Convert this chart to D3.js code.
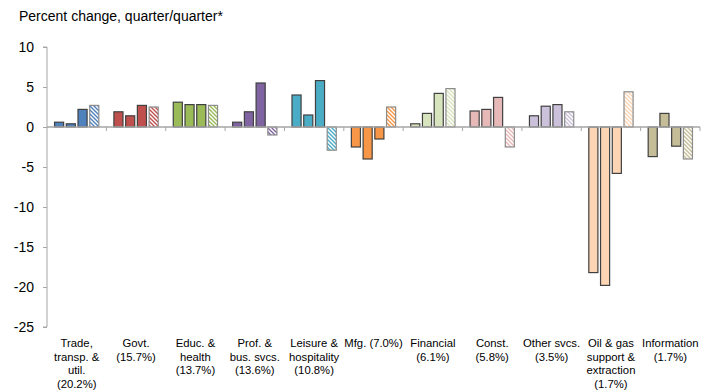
<!DOCTYPE html>
<html>
<head>
<meta charset="utf-8">
<script src="https://cdn.jsdelivr.net/npm/d3@7"></script>
<style>
  html, body { margin: 0; padding: 0; background: #fff; }
  svg { display: block; font-family: "Liberation Sans", Arial, sans-serif; }
</style>
</head>
<body>
<svg id="chart" width="712" height="392"></svg>
<script>
const title = "Percent change, quarter/quarter*";
const categories = [
  ["Trade,", "transp. &", "util.", "(20.2%)"],
  ["Govt.", "(15.7%)"],
  ["Educ. &", "health", "(13.7%)"],
  ["Prof. &", "bus. svcs.", "(13.6%)"],
  ["Leisure &", "hospitality", "(10.8%)"],
  ["Mfg. (7.0%)"],
  ["Financial", "(6.1%)"],
  ["Const.", "(5.8%)"],
  ["Other svcs.", "(3.5%)"],
  ["Oil & gas", "support &", "extraction", "(1.7%)"],
  ["Information", "(1.7%)"]
];
const seriesNames = ["Quarter 1", "Quarter 2", "Quarter 3", "Quarter 4"];
const series1 = [0.6, 1.9, 3.1, 0.6, 4.0, -2.5, 0.4, 2.0, 1.4, -18.2, -3.7];
const series2 = [0.4, 1.4, 2.8, 1.9, 1.5, -4.0, 1.7, 2.2, 2.6, -19.8, 1.7];
const series3 = [2.2, 2.7, 2.8, 5.5, 5.8, -1.5, 4.2, 3.7, 2.8, -5.8, -2.4];
const series4 = [2.7, 2.5, 2.7, -1.0, -2.9, 2.5, 4.8, -2.5, 1.9, 4.4, -4.0];
const categoryColors = ["#4F81BD", "#C0504D", "#9BBB59", "#8064A2", "#4BACC6", "#F79646",
                        "#D7E4BD", "#E6B9B8", "#CCC1DA", "#FCD5B5", "#C4BD97"];
const yTicks = [10, 5, 0, -5, -10, -15, -20, -25];

(function () {
const allSeries = [series1, series2, series3, series4];
const svg = d3.select("#chart");
const mLeft = 47, mRight = 700, mTop = 47, mBottom = 327;

const x = d3.scaleBand().domain(d3.range(categories.length)).range([mLeft, mRight]).padding(0);
const xs = d3.scaleBand().domain(d3.range(allSeries.length)).range([0, x.bandwidth()])
  .paddingInner(0.14).paddingOuter(0.6);
const y = d3.scaleLinear().domain([-25, 10]).range([mBottom, mTop]);

// patterns for hatched 4th bar
const defs = svg.append("defs");
categoryColors.forEach((c, i) => {
  const p = defs.append("pattern").attr("id", "hatch" + i)
    .attr("patternUnits", "userSpaceOnUse").attr("width", 4).attr("height", 4);
  p.append("rect").attr("width", 4).attr("height", 4).attr("fill", "#fff");
  p.append("path").attr("d", "M-1,-1 L5,5 M-1,3 L1,5 M3,-1 L5,1")
    .attr("stroke", c).attr("stroke-width", 1.4);
});

// title
svg.append("text").attr("x", 19).attr("y", 21).attr("font-size", 14).attr("fill", "#000").text(title);

// y axis
const yAxis = d3.axisLeft(y).tickValues(yTicks).tickSize(4).tickPadding(9).tickFormat(d3.format("d"));
const gy = svg.append("g").attr("transform", `translate(${mLeft},0)`).call(yAxis);
gy.select(".domain").attr("stroke", "#A6A6A6").attr("d", `M-4,${mTop}H0V${mBottom}H-4`);
gy.selectAll(".tick line").attr("stroke", "#A6A6A6");
gy.selectAll(".tick text").attr("font-size", 14).attr("fill", "#000")
  .attr("font-family", "Liberation Sans, Arial, sans-serif").text(d => d < 0 ? "-" + Math.abs(d) : d);

// bars
const bars = [];
categories.forEach((c, ci) => {
  allSeries.forEach((s, si) => bars.push({ci, si, v: s[ci], name: seriesNames[si]}));
});
svg.append("g").selectAll("rect").data(bars).join("rect")
  .attr("x", d => x(d.ci) + xs(d.si) + 0.5)
  .attr("width", xs.bandwidth() - 1)
  .attr("y", d => Math.min(y(d.v), y(0)))
  .attr("height", d => Math.abs(y(d.v) - y(0)))
  .attr("fill", d => d.si === 3 ? `url(#hatch${d.ci})` : categoryColors[d.ci])
  .attr("stroke", d => d.si === 3 ? "#8C8C8C" : "#404040")
  .attr("stroke-width", 1.2);

// x axis at zero
const gx = svg.append("g").attr("transform", `translate(0,${y(0)})`);
gx.append("line").attr("x1", mLeft).attr("x2", mRight).attr("stroke", "#A6A6A6").attr("stroke-width", 1.3);
const boundaries = d3.range(categories.length + 1).map(i => mLeft + i * x.step());
gx.selectAll("line.tk").data(boundaries.slice(1)).join("line").attr("class", "tk")
  .attr("x1", d => d).attr("x2", d => d).attr("y1", 0).attr("y2", 4).attr("stroke", "#A6A6A6");

// category labels
const gl = svg.append("g");
categories.forEach((lines, ci) => {
  const cx = x(ci) + x.bandwidth() / 2;
  const t = gl.append("text").attr("text-anchor", "middle").attr("font-size", 11.3).attr("fill", "#000")
    .attr("x", cx).attr("y", 347);
  lines.forEach((l, li) => t.append("tspan").attr("x", cx).attr("dy", li === 0 ? 0 : 13.6).text(l));
});
})();
</script>
</body>
</html>
